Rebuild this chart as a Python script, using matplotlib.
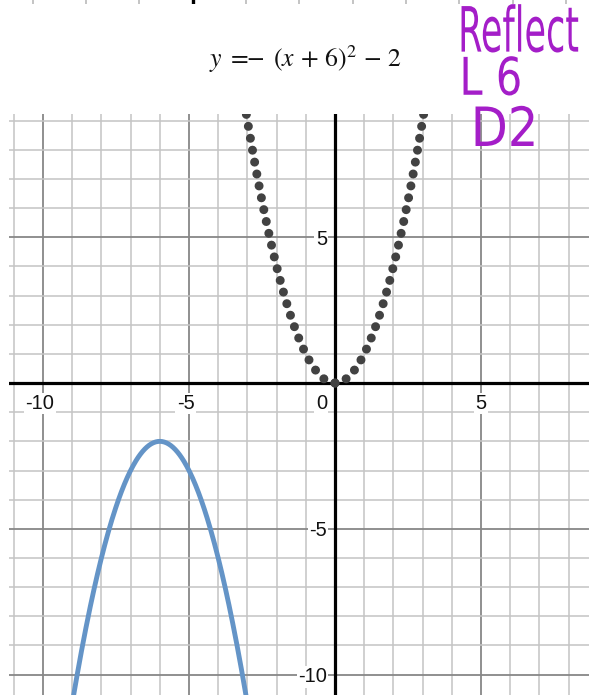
import numpy as np
import matplotlib
matplotlib.use("Agg")
import matplotlib.pyplot as plt
from matplotlib.transforms import ScaledTranslation, Affine2D
from matplotlib.patheffects import AbstractPathEffect

plt.rcParams["mathtext.fontset"] = "stix"

# parabola y = a*(x - h)^2 + k
parent_a, parent_h, parent_k = 1, 0, 0          # y = x^2 (dotted)
image_a, image_h, image_k = -1, -6, -2          # y = -(x + 6)^2 - 2 (solid)

x_major = [-10, -5, 5]
y_major = [-10, -5, 5]
x_labels = ["-10", "-5", "5"]
y_labels = ["-10", "-5", "5"]
origin_label = "0"

title_text = r"$y\ =\!\!\!-\;(x\,+\,6)^{2}\,-\,2$"
note_lines = ["Reflect", "L 6", "D2"]

xlim = (-11.164, 8.699)
ylim = (-10.70, 9.228)

W, H = 589, 695
fig = plt.figure(figsize=(W / 100, H / 100), dpi=100)
fig.patch.set_facecolor("white")


class Stretch(AbstractPathEffect):
    """Scale the rendered glyph outline about its lower-left corner."""

    def __init__(self, sx=1.0, sy=1.0):
        super().__init__()
        self.sx, self.sy = sx, sy

    def draw_path(self, renderer, gc, tpath, affine, rgbFace=None):
        ext = tpath.get_extents(affine)
        t = affine + Affine2D().translate(-ext.x0, -ext.y0) \
            .scale(self.sx, self.sy).translate(ext.x0, ext.y0)
        renderer.draw_path(gc, tpath, t, rgbFace)


ax = fig.add_axes([9 / W, 0, 580 / W, 581 / H])
ax.set_xlim(*xlim)
ax.set_ylim(*ylim)
for s in ax.spines.values():
    s.set_visible(False)
ax.set_xticks(x_major + [0])
ax.set_yticks(y_major + [0])
ax.set_xticks(np.arange(-11, 9), minor=True)
ax.set_yticks(np.arange(-10, 10), minor=True)
ax.tick_params(which="both", length=0, labelbottom=False, labelleft=False)
ax.grid(which="minor", color="#c4c4c4", linewidth=1.1, zorder=0)
ax.grid(which="major", color="#878787", linewidth=1.3, zorder=0.5)
ax.set_axisbelow(True)

ax.axhline(0, color="black", linewidth=2.3, zorder=3)
ax.axvline(0, color="black", linewidth=2.3, zorder=3)

px = 1 / 100  # one pixel in inches
box = dict(facecolor="white", edgecolor="none", pad=1.0)
lab_kw = dict(fontsize=14.5, family=["Liberation Sans", "DejaVu Sans"],
              color="#111111", zorder=2, bbox=box)

for v, lab in zip(x_major, x_labels):
    ndig = len(lab.lstrip("-"))
    off = ScaledTranslation(ndig * 5.6 * px, -11 * px, fig.dpi_scale_trans)
    ax.text(v, 0, lab, ha="right", va="top", transform=ax.transData + off, **lab_kw)

for v, lab in zip(y_major, y_labels):
    off = ScaledTranslation(-8 * px, 0, fig.dpi_scale_trans)
    ax.text(0, v, lab, ha="right", va="center_baseline", transform=ax.transData + off, **lab_kw)

off0 = ScaledTranslation(-8 * px, -11 * px, fig.dpi_scale_trans)
ax.text(0, 0, origin_label, ha="right", va="top", transform=ax.transData + off0, **lab_kw)

# transformed parabola
xs = np.linspace(xlim[0], xlim[1], 800)
ax.plot(xs, image_a * (xs - image_h) ** 2 + image_k, color="#6494c7",
        linewidth=3.5, solid_capstyle="round", zorder=4)

# parent parabola, dotted, traced outward from the vertex
dot_style = dict(color="#424242", linewidth=6.5, linestyle=(0, (0.001, 1.34)),
                 dash_capstyle="round", zorder=5)
for side in (np.linspace(0, 3.4, 300), np.linspace(0, -3.4, 300)):
    xv = parent_h + side
    ax.plot(xv, parent_a * (xv - parent_h) ** 2 + parent_k, **dot_style)

# fragment of the previous graph's grid at the very top
strip = fig.add_axes([0, (H - 4) / H, 1, 4 / H])
strip.set_xlim(-192.7 / 53.3, (W - 192.7) / 53.3)
strip.set_ylim(0, 1)
strip.axis("off")
for v in range(-3, 8):
    if v == 0:
        strip.axvline(v, color="black", linewidth=2.4)
    else:
        strip.axvline(v, color="#b4b4b4", linewidth=1.1)

fig.text(306 / W, 1 - 67 / H, title_text, fontsize=18.5, ha="center",
         va="baseline", color="#111111")

# handwritten note, tall and narrow
note_kw = dict(family=["DejaVu Sans"], color="#a41ec8", fontsize=26,
               va="baseline", ha="left")
fig.text(458 / W, 1 - 52 / H, note_lines[0],
         path_effects=[Stretch(0.97, 1.73)], **note_kw)
fig.text(460 / W, 1 - 95 / H, note_lines[1],
         path_effects=[Stretch(1.15, 1.44)], **note_kw)
fig.text(472 / W, 1 - 146 / H, note_lines[2],
         path_effects=[Stretch(1.33, 1.5)], **note_kw)

fig.savefig("out.png", dpi=100, facecolor="white")
